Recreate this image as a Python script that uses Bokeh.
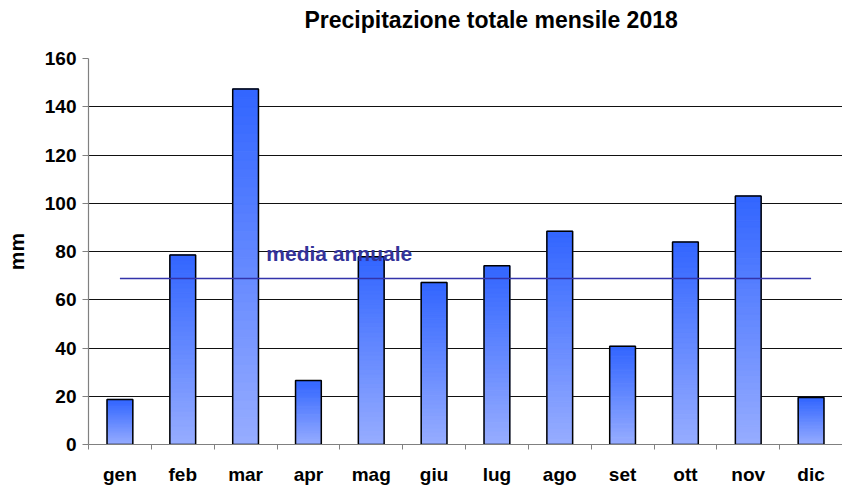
import numpy as np
from bokeh.plotting import figure
from bokeh.models import (Range1d, FixedTicker, CustomJSTickFormatter, Label, Title)
from bokeh.embed import file_html
from bokeh.resources import INLINE

# ---- data ----
months = ["gen", "feb", "mar", "apr", "mag", "giu", "lug", "ago", "set", "ott", "nov", "dic"]
precip_mm = [18.7, 78.6, 147.4, 26.5, 77.8, 67.2, 74.1, 88.4, 40.7, 83.9, 103.0, 19.5]
y_ticks = [0, 20, 40, 60, 80, 100, 120, 140, 160]
title_text = "Precipitazione totale mensile 2018"
media_text = "media annuale"
y_label = "mm"

FONT = "Liberation Sans"
TOP_RGB = np.array([51, 102, 255])
BOT_RGB = np.array([150, 172, 255])

n = len(months)
xc = [i + 0.5 for i in range(n)]
media = float(np.mean(precip_mm))

p = figure(width=842, height=487, output_backend="svg", toolbar_location=None,
           x_range=Range1d(0, n), y_range=Range1d(0, y_ticks[-1]),
           min_border_left=88, min_border_right=0, min_border_top=58, min_border_bottom=40)
p.outline_line_color = None
p.background_fill_color = "white"
p.border_fill_color = "white"

# spacer between title and frame
p.add_layout(Title(text=" ", text_font_size="10px", standoff=11), "above")

# title
p.title.text = title_text
p.title.align = "left"
p.title.text_font = FONT
p.title.text_font_size = "23px"
p.title.text_font_style = "bold"
p.title.text_color = "black"
p.title.offset = 216
p.title.standoff = 0
p.title.vertical_align = "top"

# gradient bars: slices per bar, derived from each value
N = 40
l, r, b, t, cols = [], [], [], [], []
w = 0.41
for x, v in zip(xc, precip_mm):
    for k in range(N):
        frac = k / (N - 1)
        c = BOT_RGB + (TOP_RGB - BOT_RGB) * frac
        l.append(x - w / 2)
        r.append(x + w / 2)
        b.append(v * k / N)
        t.append(v * (k + 1) / N)
        cols.append("#%02x%02x%02x" % tuple(int(round(z)) for z in c))
p.quad(left=l, right=r, bottom=b, top=t, fill_color=cols, line_color=cols, line_width=1)
p.vbar(x=xc, top=precip_mm, width=w, fill_alpha=0, line_color="black", line_width=1.5)

# annual mean line
p.line(x=[xc[0], xc[-1]], y=[media, media], line_color="#3333AA", line_width=1.5)
p.add_layout(Label(x=2.83, y=79, text=media_text, text_font=FONT, text_font_size="21px",
                   text_font_style="bold", text_color="#333399", text_baseline="alphabetic"))

# axes
p.xgrid.grid_line_color = None
p.ygrid.grid_line_color = "#111111"
p.ygrid.grid_line_width = 1
p.yaxis.ticker = FixedTicker(ticks=y_ticks)
p.xaxis.ticker = FixedTicker(ticks=xc, minor_ticks=list(range(n + 1)))
p.xaxis.formatter = CustomJSTickFormatter(args=dict(labels=months),
                                          code="return labels[Math.floor(tick)] || ''")
for ax in (p.xaxis, p.yaxis):
    ax.axis_line_color = "#808080"
    ax.axis_line_width = 1.2
    ax.major_tick_line_color = "#808080"
    ax.minor_tick_line_color = "#808080"
    ax.major_label_text_font = FONT
    ax.major_label_text_font_size = "19px"
    ax.major_label_text_font_style = "bold"
    ax.major_label_text_color = "black"
    ax.major_tick_in = 0
    ax.minor_tick_in = 0
p.yaxis.major_tick_out = 6
p.yaxis.minor_tick_out = 0
p.yaxis.major_label_standoff = 6
p.xaxis.major_tick_out = 0
p.xaxis.minor_tick_out = 5
p.xaxis.major_label_standoff = 14
p.yaxis.axis_label = y_label
p.yaxis.axis_label_text_font = FONT
p.yaxis.axis_label_text_font_size = "21px"
p.yaxis.axis_label_text_font_style = "bold"
p.yaxis.axis_label_text_color = "black"
p.yaxis.axis_label_standoff = 14

open("out.html", "w").write(file_html(p, INLINE))
